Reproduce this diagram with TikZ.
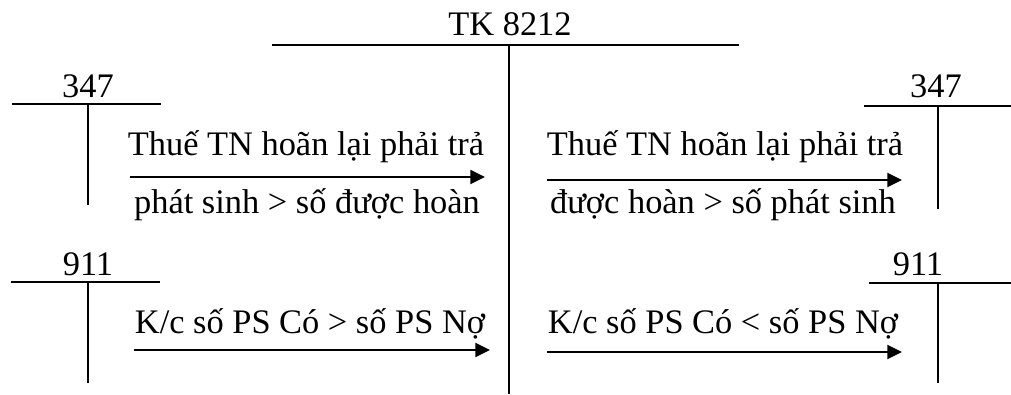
\documentclass[tikz,border=0pt]{standalone}
\usepackage{fontspec}
\setmainfont{Liberation Serif}
\usetikzlibrary{arrows.meta}
\begin{document}
\begin{tikzpicture}[x=0.75pt,y=-0.75pt,
  acct/.style={line width=1.5pt},
  flow/.style={line width=1.5pt,-{Triangle[length=11pt,width=10.5pt]}},
  lbl/.style={anchor=base,inner sep=0pt,font=\fontsize{25.8}{30}\selectfont}]
\useasboundingbox (0,0) rectangle (1011,394);
% main account TK 8212
\node[lbl] (tk) at (510,35) {TK 8212};
\coordinate (tkL) at (272,45);
\coordinate (tkR) at (739,45);
\coordinate (tkT) at (509,45);
\coordinate (tkB) at (509,394);
\draw[acct] (tkL) -- (tkR);
\draw[acct] (tkT) -- (tkB);
% left 347
\node[lbl] (a347l) at (88,97) {347};
\coordinate (l1L) at (12,104);
\coordinate (l1R) at (161,104);
\coordinate (l1T) at (88,104);
\coordinate (l1B) at (88,205);
\draw[acct] (l1L) -- (l1R);
\draw[acct] (l1T) -- (l1B);
% left 911
\node[lbl] (a911l) at (88,275) {911};
\coordinate (l2L) at (11,282);
\coordinate (l2R) at (160,282);
\coordinate (l2T) at (88,282);
\coordinate (l2B) at (88,383);
\draw[acct] (l2L) -- (l2R);
\draw[acct] (l2T) -- (l2B);
% right 347
\node[lbl] (a347r) at (936,97) {347};
\coordinate (r1L) at (864,106);
\coordinate (r1R) at (1011,106);
\coordinate (r1T) at (938,106);
\coordinate (r1B) at (938,209);
\draw[acct] (r1L) -- (r1R);
\draw[acct] (r1T) -- (r1B);
% right 911
\node[lbl] (a911r) at (918,275) {911};
\coordinate (r2L) at (869,283);
\coordinate (r2R) at (1011,283);
\coordinate (r2T) at (938,283);
\coordinate (r2B) at (938,383);
\draw[acct] (r2L) -- (r2R);
\draw[acct] (r2T) -- (r2B);
% arrows
\coordinate (f1s) at (130,177); \coordinate (f1e) at (485,177);
\coordinate (f2s) at (134,350); \coordinate (f2e) at (490,350);
\coordinate (f3s) at (547,180); \coordinate (f3e) at (902,180);
\coordinate (f4s) at (547,352); \coordinate (f4e) at (902,352);
\draw[flow] (f1s) -- (f1e);
\draw[flow] (f2s) -- (f2e);
\draw[flow] (f3s) -- (f3e);
\draw[flow] (f4s) -- (f4e);
% labels
\node[lbl] (t1a) at (306,155) {Thuế TN hoãn lại phải trả};
\node[lbl] (t1b) at (307,213) {phát sinh > số được hoàn};
\node[lbl] (t2) at (310,333) {K/c số PS Có > số PS Nợ};
\node[lbl] (t3a) at (725,155) {Thuế TN hoãn lại phải trả};
\node[lbl] (t3b) at (723,213) {được hoàn > số phát sinh};
\node[lbl] (t4) at (723,333) {K/c số PS Có < số PS Nợ};
\end{tikzpicture}
\end{document}
